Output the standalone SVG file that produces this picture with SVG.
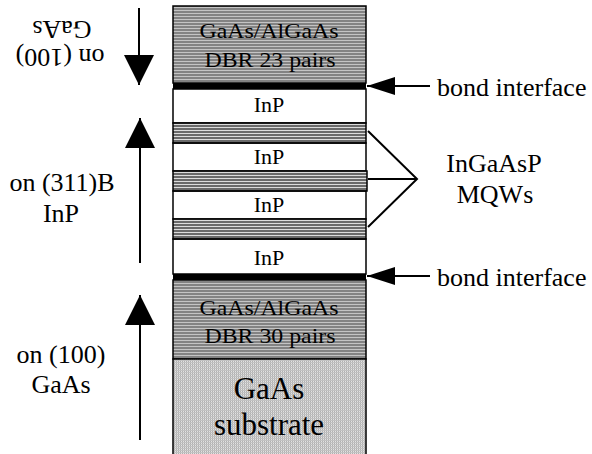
<svg xmlns="http://www.w3.org/2000/svg" width="592" height="454" viewBox="0 0 592 454" font-family="'Liberation Serif', Tinos, 'Times New Roman', Times, serif">
  <defs>
    <!-- DBR mirror stripes -->
    <pattern id="dbr" width="4" height="3" patternUnits="userSpaceOnUse">
      <rect width="4" height="3" fill="#838383"/>
      <rect y="1" width="4" height="1" fill="#c4c4c4"/>
    </pattern>
    <!-- quantum well stripes -->
    <pattern id="mqw" width="4" height="3" patternUnits="userSpaceOnUse">
      <rect width="4" height="3" fill="#6a6a6a"/>
      <rect y="1" width="4" height="1" fill="#dcdcdc"/>
    </pattern>
    <!-- substrate crosshatch -->
    <pattern id="sub" width="2" height="2" patternUnits="userSpaceOnUse">
      <rect width="2" height="2" fill="#e2e2e2"/>
      <rect width="1" height="2" fill="#b0b0b0"/>
      <rect width="2" height="1" fill="#c2c2c2"/>
    </pattern>
    <marker id="head" viewBox="0 0 30 30" refX="30" refY="15" markerWidth="30" markerHeight="30" markerUnits="userSpaceOnUse" orient="auto">
      <path d="M0,0 L30,15 L0,30 Z" fill="#000"/>
    </marker>
    <marker id="headS" viewBox="0 0 28 18" refX="28" refY="9" markerWidth="28" markerHeight="18" markerUnits="userSpaceOnUse" orient="auto">
      <path d="M0,0 L28,9 L0,18 Z" fill="#000"/>
    </marker>
  </defs>
  <style>
    text { font-family: "Liberation Serif", Tinos, "Times New Roman", Times, serif; fill: #000; }
    .lbl { font-size: 26px; }
    .layer { font-size: 22px; text-anchor: middle; }
    .dbrtxt { font-size: 22px; text-anchor: middle; }
    .subtxt { font-size: 31px; text-anchor: middle; }
    .mid { text-anchor: middle; }
    .edge { stroke: #000; stroke-width: 1.5; fill: none; }
    .conn { stroke: #000; stroke-width: 2; fill: none; }
  </style>

  <rect width="592" height="454" fill="#fff"/>

  <!-- layer stack -->
  <g id="dbr-top">
    <rect x="173" y="6" width="193" height="77" fill="url(#dbr)" stroke="#000" stroke-width="1.5"/>
    <text class="dbrtxt" x="269" y="38" textLength="139" lengthAdjust="spacingAndGlyphs">GaAs/AlGaAs</text>
    <text class="dbrtxt" x="270" y="67" textLength="131" lengthAdjust="spacingAndGlyphs">DBR 23 pairs</text>
  </g>
  <g id="bond-top">
    <rect x="173" y="83" width="193" height="6" fill="#000"/>
  </g>
  <g id="inp-1">
    <rect x="173" y="89" width="193" height="34" fill="#fff" class="edge"/>
    <text class="layer" x="269" y="112">InP</text>
  </g>
  <g id="qw-1">
    <rect x="173" y="123" width="193" height="20" fill="url(#mqw)" stroke="#000" stroke-width="1.5"/>
  </g>
  <g id="inp-2">
    <rect x="173" y="143" width="193" height="28" fill="#fff" class="edge"/>
    <text class="layer" x="269" y="164">InP</text>
  </g>
  <g id="qw-2">
    <rect x="173" y="171" width="194" height="20" fill="url(#mqw)" stroke="#000" stroke-width="1.5"/>
  </g>
  <g id="inp-3">
    <rect x="173" y="191" width="193" height="28" fill="#fff" class="edge"/>
    <text class="layer" x="269" y="212">InP</text>
  </g>
  <g id="qw-3">
    <rect x="173" y="219" width="193" height="20" fill="url(#mqw)" stroke="#000" stroke-width="1.5"/>
  </g>
  <g id="inp-4">
    <rect x="173" y="239" width="193" height="35" fill="#fff" class="edge"/>
    <text class="layer" x="269" y="265">InP</text>
  </g>
  <g id="bond-bottom">
    <rect x="173" y="274" width="193" height="6" fill="#000"/>
  </g>
  <g id="dbr-bottom">
    <rect x="173" y="280" width="193" height="79" fill="url(#dbr)" stroke="#000" stroke-width="1.5"/>
    <text class="dbrtxt" x="269" y="315" textLength="139" lengthAdjust="spacingAndGlyphs">GaAs/AlGaAs</text>
    <text class="dbrtxt" x="270" y="343" textLength="131" lengthAdjust="spacingAndGlyphs">DBR 30 pairs</text>
  </g>
  <g id="substrate">
    <rect x="173" y="359" width="193" height="100" fill="url(#sub)" stroke="#000" stroke-width="1.5"/>
    <text class="subtxt" x="269" y="399">GaAs</text>
    <text class="subtxt" x="269" y="435">substrate</text>
  </g>

  <!-- growth direction labels -->
  <g id="label-top-gaas">
    <text class="lbl mid" transform="translate(62,21) rotate(180)">GaAs</text>
    <text class="lbl mid" transform="translate(60,49) rotate(180)">on (100)</text>
  </g>
  <g id="label-inp">
    <text class="lbl mid" x="62" y="191">on (311)B</text>
    <text class="lbl mid" x="61" y="222">InP</text>
  </g>
  <g id="label-bottom-gaas">
    <text class="lbl mid" x="61" y="363">on (100)</text>
    <text class="lbl mid" x="61" y="393">GaAs</text>
  </g>
  <g id="label-bond-top">
    <text class="lbl" x="437" y="96">bond interface</text>
  </g>
  <g id="label-bond-bottom">
    <text class="lbl" x="437" y="286">bond interface</text>
  </g>
  <g id="label-mqw">
    <text class="lbl mid" x="494" y="172">InGaAsP</text>
    <text class="lbl mid" x="495" y="203">MQWs</text>
  </g>

  <!-- connectors -->
  <g id="connectors">
    <line class="conn" x1="139" y1="8" x2="139" y2="85" marker-end="url(#head)"/>
    <line class="conn" x1="140" y1="263" x2="140" y2="118" marker-end="url(#head)"/>
    <line class="conn" x1="140" y1="440" x2="140" y2="295" marker-end="url(#head)"/>
    <line class="conn" x1="430" y1="86" x2="367" y2="86" marker-end="url(#headS)"/>
    <line class="conn" x1="430" y1="276" x2="367" y2="276" marker-end="url(#headS)"/>
    <polyline class="conn" points="368,131 417,179 368,227"/>
    <line class="conn" x1="368" y1="179" x2="417" y2="179"/>
  </g>
</svg>
